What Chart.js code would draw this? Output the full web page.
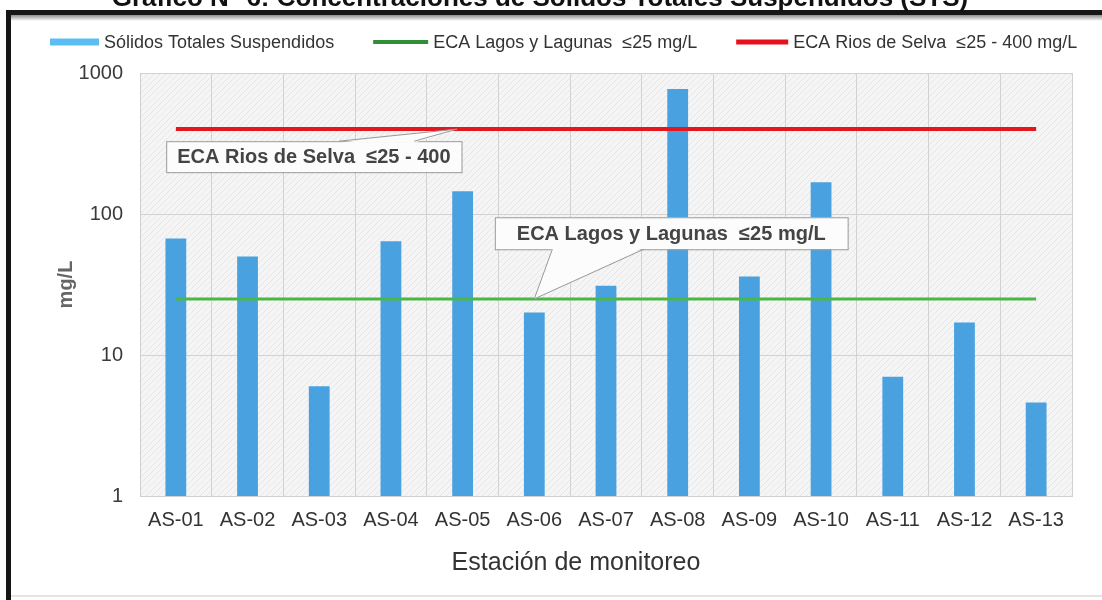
<!DOCTYPE html>
<html><head><meta charset="utf-8">
<script src="https://cdn.jsdelivr.net/npm/chart.js@4"></script>
<style>html,body{margin:0;padding:0;background:#fff;overflow:hidden}</style>
</head><body>
<canvas id="c" width="1102" height="600"></canvas>
<script>
const categories = ['AS-01','AS-02','AS-03','AS-04','AS-05','AS-06','AS-07','AS-08','AS-09','AS-10','AS-11','AS-12','AS-13'];
const stsValues = [67, 50, 6, 64, 145, 20, 31, 770, 36, 168, 7, 17, 4.6];
const ecaLagos = [25, 25, 25, 25, 25, 25, 25, 25, 25, 25, 25, 25, 25];
const ecaRios = [400, 400, 400, 400, 400, 400, 400, 400, 400, 400, 400, 400, 400];
const yTickValues = [1, 10, 100, 1000];
const seriesLabels = ['Sólidos Totales Suspendidos', 'ECA Lagos y Lagunas  \u226425 mg/L', 'ECA Rios de Selva  \u226425 - 400 mg/L'];
const chartTitle = 'Gráfico N° 6: Concentraciones de Sólidos Totales Suspendidos (STS)';
const xTitle = 'Estación de monitoreo';
const yTitle = 'mg/L';
const calloutTexts = ['ECA Rios de Selva  \u226425 - 400', 'ECA Lagos y Lagunas  \u226425 mg/L'];

const FONT = "'Liberation Sans', Arial, sans-serif";
const BAR = '#49a2df', GREEN = '#4bb846', RED = '#e3171d';
const legendColors = ['#5cbdf2', '#2f8f34', '#e8101a'];
const legendBox = [[49, 7], [55, 4], [52, 5]];

// callouts positioned in data units (category index / axis value)
const callouts = [
  {text: calloutTexts[0], xIdx: 1.925, yVal: 255, padX: 11, h: 31, side: 'top', b1: 0.585, b2: 0.84, tipIdx: 3.92, tipVal: 400},
  {text: calloutTexts[1], xIdx: 6.91, yVal: 73, padX: 22, h: 32, side: 'bottom', b1: 0.163, b2: 0.422, tipIdx: 5.0, tipVal: 25}
];

function hatch(ctx) {
  const c = document.createElement('canvas'); c.width = 6; c.height = 6;
  const g = c.getContext('2d');
  g.fillStyle = '#f5f5f5'; g.fillRect(0, 0, 6, 6);
  g.strokeStyle = '#e6e6e6'; g.lineWidth = 1;
  g.beginPath(); g.moveTo(0, 6); g.lineTo(6, 0); g.stroke();
  return ctx.createPattern(c, 'repeat');
}

function drawCallout(chart, c) {
  const ctx = chart.ctx, xs = chart.scales.x, ys = chart.scales.y;
  ctx.save();
  ctx.font = `bold 20px ${FONT}`;
  const tw = ctx.measureText(c.text).width;
  const w = tw + 2 * c.padX, h = c.h;
  const cx = xs.getPixelForValue(c.xIdx), cy = ys.getPixelForValue(c.yVal);
  const left = cx - w / 2, top = cy - h / 2;
  const ey = c.side === 'top' ? top : top + h;
  const bx1 = left + w * c.b1, bx2 = left + w * c.b2;
  const tx = xs.getPixelForValue(c.tipIdx), ty = ys.getPixelForValue(c.tipVal);
  ctx.fillStyle = '#fcfcfc'; ctx.strokeStyle = '#9a9a9a'; ctx.lineWidth = 1;
  ctx.fillRect(left, top, w, h);
  ctx.strokeRect(left + 0.5, top + 0.5, w, h);
  const inset = c.side === 'top' ? 1.5 : -1.5;
  ctx.beginPath(); ctx.moveTo(bx1, ey + inset); ctx.lineTo(tx, ty); ctx.lineTo(bx2, ey + inset); ctx.closePath(); ctx.fill();
  ctx.beginPath(); ctx.moveTo(bx1, ey); ctx.lineTo(tx, ty); ctx.lineTo(bx2, ey); ctx.stroke();
  ctx.fillStyle = '#444'; ctx.textAlign = 'center'; ctx.textBaseline = 'middle';
  ctx.fillText(c.text, cx, cy + 1);
  ctx.restore();
}

const deco = {
  id: 'deco',
  beforeDraw(chart) {
    const {ctx, chartArea: a} = chart;
    ctx.save();
    ctx.fillStyle = '#fff'; ctx.fillRect(0, 0, chart.width, chart.height);
    ctx.fillStyle = hatch(ctx);
    ctx.fillRect(a.left, a.top, a.right - a.left, a.bottom - a.top);
    ctx.restore();
  },
  afterDraw(chart) {
    const ctx = chart.ctx;
    ctx.save();
    // frame
    ctx.fillStyle = '#161616';
    ctx.fillRect(6, 10, chart.width - 6, 5);
    ctx.fillRect(6, 10, 5, chart.height - 10);
    const gr = ctx.createLinearGradient(0, 15, 0, 21);
    gr.addColorStop(0, 'rgba(0,0,0,0.45)'); gr.addColorStop(1, 'rgba(0,0,0,0)');
    ctx.fillStyle = gr; ctx.fillRect(11, 15, chart.width - 11, 6);
    ctx.fillStyle = '#e4e4e4'; ctx.fillRect(11, 595, chart.width - 11, 2);
    // title (clipped at top)
    ctx.fillStyle = '#111'; ctx.font = `bold 26px ${FONT}`;
    ctx.textAlign = 'center'; ctx.textBaseline = 'alphabetic';
    ctx.fillText(chartTitle, 540, 6);
    // x axis title
    ctx.fillStyle = '#333'; ctx.font = `25px ${FONT}`; ctx.textBaseline = 'middle';
    ctx.fillText(xTitle, 576, 563);
    // legend
    ctx.font = `18px ${FONT}`; ctx.textAlign = 'left'; ctx.textBaseline = 'middle';
    let x = 50; const ly = 42;
    chart.data.datasets.forEach((ds, i) => {
      const [bw, bh] = legendBox[i];
      ctx.fillStyle = legendColors[i];
      ctx.fillRect(x, ly - bh / 2, bw, bh);
      x += bw + 5;
      ctx.fillStyle = '#333';
      ctx.fillText(ds.label, x, ly + 1);
      x += ctx.measureText(ds.label).width + 39;
    });
    ctx.restore();
    callouts.forEach(c => drawCallout(chart, c));
  }
};

new Chart(document.getElementById('c'), {
  data: {
    labels: categories,
    datasets: [
      {type: 'bar', label: seriesLabels[0], data: stsValues, backgroundColor: BAR, barPercentage: 0.29, categoryPercentage: 1, order: 3},
      {type: 'line', label: seriesLabels[1], data: ecaLagos, borderColor: GREEN, backgroundColor: GREEN, borderWidth: 3, pointRadius: 0, order: 2},
      {type: 'line', label: seriesLabels[2], data: ecaRios, borderColor: RED, backgroundColor: RED, borderWidth: 4, pointRadius: 0, order: 1}
    ]
  },
  options: {
    responsive: false, animation: false, devicePixelRatio: 1,
    layout: {padding: {top: 73, right: 30, left: 0, bottom: 0}},
    plugins: {legend: {display: false}, title: {display: false}, tooltip: {enabled: false}},
    scales: {
      x: {
        type: 'category', offset: true,
        grid: {offset: true, color: '#d2d2d2', drawTicks: false},
        border: {color: '#cfcfcf'},
        ticks: {font: {family: FONT, size: 20}, color: '#333', padding: 12, maxRotation: 0, autoSkip: false},
        title: {display: false, text: xTitle},
        afterFit: s => { s.height = 104; }
      },
      y: {
        type: 'logarithmic', min: 1, max: 1000,
        afterBuildTicks: s => { s.ticks = yTickValues.map(v => ({value: v, major: true})); },
        grid: {color: '#d2d2d2', drawTicks: false},
        border: {color: '#cfcfcf'},
        ticks: {font: {family: FONT, size: 20}, color: '#3a3a3a', padding: 17, callback: v => String(v)},
        title: {display: true, text: yTitle, font: {family: FONT, size: 20, weight: 'bold'}, color: '#666', padding: {top: 54, bottom: 0}},
        afterFit: s => { s.width = 140; }
      }
    }
  },
  plugins: [deco]
});
</script>
</body></html>
